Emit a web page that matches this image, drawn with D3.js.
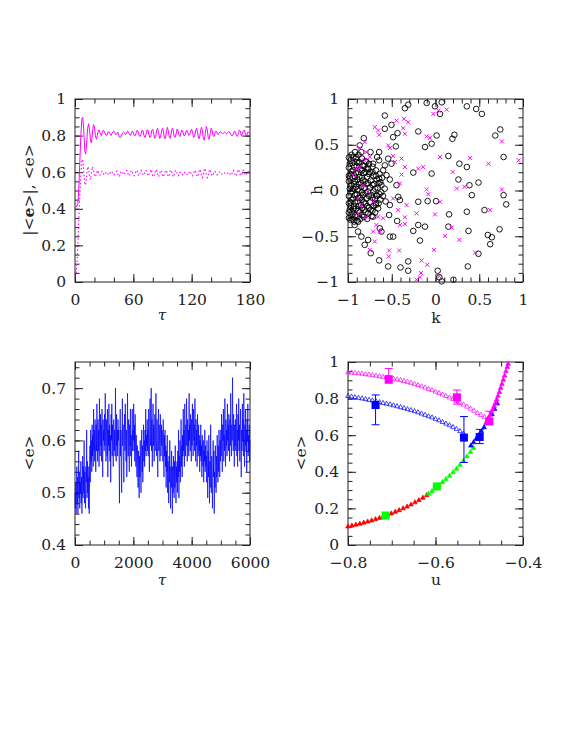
<!DOCTYPE html>
<html>
<head>
<meta charset="utf-8">
<script src="https://cdnjs.cloudflare.com/ajax/libs/d3/7.8.5/d3.min.js"></script>
<style>
  body { margin: 0; background: #fff; }
  svg { display: block; }
</style>
</head>
<body>
<div id="chart"></div>
<script>
// ---- panel 1: |<e>| (solid) and <e> (dotted) vs tau, tau = 0..180 step 1
var absE = [
  0.41, 0.41, 0.415, 0.43, 0.52, 0.66, 0.80, 0.89, 0.90, 0.83,
  0.72, 0.70, 0.76, 0.84, 0.865, 0.83, 0.77, 0.76, 0.82, 0.86,
  0.85, 0.80, 0.78, 0.80, 0.83, 0.83, 0.81, 0.80, 0.815, 0.83,
  0.825, 0.81, 0.80, 0.805, 0.82, 0.82, 0.81, 0.80, 0.81, 0.82,
  0.825, 0.815, 0.805, 0.81, 0.82, 0.80, 0.79, 0.79, 0.80, 0.815,
  0.82, 0.815, 0.805, 0.81, 0.825, 0.82, 0.805, 0.80, 0.815, 0.825,
  0.815, 0.80, 0.80, 0.815, 0.83, 0.82, 0.80, 0.795, 0.81, 0.83,
  0.825, 0.80, 0.79, 0.805, 0.83, 0.83, 0.805, 0.79, 0.80, 0.83,
  0.835, 0.81, 0.785, 0.795, 0.83, 0.84, 0.815, 0.785, 0.79, 0.825,
  0.84, 0.82, 0.785, 0.785, 0.82, 0.845, 0.825, 0.79, 0.785, 0.815,
  0.84, 0.83, 0.795, 0.79, 0.81, 0.835, 0.825, 0.80, 0.795, 0.815,
  0.83, 0.82, 0.80, 0.80, 0.82, 0.83, 0.815, 0.80, 0.805, 0.825,
  0.835, 0.815, 0.79, 0.795, 0.825, 0.84, 0.82, 0.785, 0.785, 0.82,
  0.845, 0.83, 0.785, 0.775, 0.81, 0.85, 0.835, 0.79, 0.78, 0.81,
  0.84, 0.83, 0.80, 0.795, 0.815, 0.825, 0.815, 0.805, 0.81, 0.82,
  0.82, 0.815, 0.81, 0.815, 0.82, 0.815, 0.81, 0.815, 0.82, 0.82,
  0.81, 0.80, 0.80, 0.81, 0.825, 0.82, 0.80, 0.795, 0.81, 0.83,
  0.825, 0.80, 0.805, 0.825, 0.83, 0.815, 0.80, 0.805, 0.82, 0.815,
  0.81
]
var meanE = [
  0.03, 0.04, 0.10, 0.22, 0.36, 0.48, 0.58, 0.66, 0.67, 0.60,
  0.54, 0.53, 0.58, 0.63, 0.62, 0.57, 0.56, 0.60, 0.63, 0.61,
  0.58, 0.575, 0.59, 0.61, 0.60, 0.585, 0.585, 0.60, 0.605, 0.595,
  0.585, 0.59, 0.60, 0.60, 0.59, 0.585, 0.595, 0.605, 0.60, 0.59,
  0.585, 0.59, 0.60, 0.605, 0.59, 0.575, 0.58, 0.60, 0.605, 0.595,
  0.585, 0.59, 0.60, 0.61, 0.60, 0.585, 0.58, 0.595, 0.61, 0.60,
  0.585, 0.58, 0.595, 0.61, 0.605, 0.585, 0.58, 0.595, 0.61, 0.60,
  0.585, 0.585, 0.60, 0.61, 0.60, 0.58, 0.585, 0.60, 0.615, 0.60,
  0.58, 0.575, 0.595, 0.615, 0.61, 0.585, 0.575, 0.59, 0.61, 0.605,
  0.585, 0.575, 0.59, 0.61, 0.61, 0.59, 0.575, 0.585, 0.61, 0.61,
  0.59, 0.575, 0.585, 0.605, 0.61, 0.595, 0.58, 0.585, 0.60, 0.60,
  0.59, 0.585, 0.59, 0.60, 0.60, 0.59, 0.585, 0.595, 0.605, 0.60,
  0.585, 0.58, 0.595, 0.61, 0.605, 0.585, 0.575, 0.59, 0.615, 0.61,
  0.585, 0.57, 0.585, 0.615, 0.62, 0.59, 0.57, 0.58, 0.61, 0.615,
  0.595, 0.58, 0.585, 0.60, 0.605, 0.595, 0.585, 0.59, 0.60, 0.60,
  0.59, 0.59, 0.595, 0.60, 0.595, 0.59, 0.59, 0.595, 0.60, 0.595,
  0.585, 0.585, 0.60, 0.61, 0.60, 0.58, 0.58, 0.60, 0.615, 0.605,
  0.585, 0.58, 0.595, 0.61, 0.60, 0.585, 0.585, 0.60, 0.605, 0.595,
  0.59
]

// ---- panel 2: (k, h) scatter, black circles and magenta crosses
var circlesKH = [
  [-0.101,0.957],[0.071,0.964],[-0.006,0.92],[0.052,0.837],[0.358,0.92],[0.465,0.891],[0.53,0.837],
  [-0.312,0.938],[-0.35,0.899],[-0.579,0.819],[-0.503,0.717],[-0.579,0.674],[-0.434,0.627],[-0.484,0.583],
  [-0.453,0.482],[-0.197,0.645],[-0.12,0.475],[-0.044,0.511],[0.013,0.601],[0.193,0.565],[0.216,0.609],
  [0.147,0.377],[0.273,0.293],[0.358,0.257],[0.262,0.12],[0.388,0.058],[0.491,0.087],[0.683,0.601],
  [0.74,0.667],[0.778,0.366],[0.778,-0.051],[0.808,-0.152],[0.415,-0.051],[0.56,-0.214],[0.358,-0.232],
  [0.155,-0.261],[0.147,-0.395],[0.377,-0.442],[0.598,-0.486],[0.644,-0.511],[0.625,-0.587],[0.732,-0.424],
  [0.491,-0.692],[0.369,-0.83],[0.025,-0.877],[0.044,-0.949],[0.071,-0.993],[0.205,-0.975],[-0.044,0.185],
  [0.006,-0.116],[-0.09,-0.116],[-0.197,-0.123],[-0.12,-0.395],[-0.197,-0.377],[-0.254,-0.442],[-0.178,-0.547],
  [-0.254,0.196],[-0.312,-0.775],[-0.312,-0.877],[-0.4,-0.841],[-0.541,-0.83],[-0.644,-0.764],[-0.74,-0.685],
  [-0.522,-0.504],[-0.484,-0.504],[-0.53,-0.268],[-0.438,-0.333],[-0.522,-0.159],[-0.618,-0.449],[-0.446,0.058],
  [-0.426,-0.069],[-0.407,-0.105],[-0.522,0.12],[-0.56,0.167],[-0.503,0.293],[-0.541,0.348],[-0.579,0.275],
  [-0.644,0.42],[-0.743,0.42],[-0.667,0.366],[-0.644,0.33],[-0.598,0.221],[-0.644,0.13],[-0.618,0.058],
  [-0.675,-0.051],[-0.683,-0.159],[-0.656,-0.196],[-0.713,-0.286],[-0.637,-0.413],[-0.77,-0.54],[-0.809,-0.594],
  [-0.847,-0.504],[-0.885,-0.449],[-0.924,-0.377],[-0.885,-0.341],[-0.82,0.572],[-0.866,0.493],[-0.847,0.42],
  [-0.904,0.366],[-0.79,0.312],[-0.713,0.293],
  [-0.99,0.25],[-0.97,0.18],[-0.99,0.10],[-0.98,0.02],[-0.99,-0.06],[-0.97,-0.13],[-0.98,-0.21],[-0.96,-0.27],
  [-0.95,0.30],[-0.94,0.22],[-0.95,0.14],[-0.93,0.07],[-0.95,-0.01],[-0.94,-0.09],[-0.93,-0.17],[-0.95,-0.24],
  [-0.91,0.35],[-0.90,0.27],[-0.91,0.19],[-0.89,0.12],[-0.91,0.04],[-0.90,-0.04],[-0.89,-0.12],[-0.91,-0.20],
  [-0.89,-0.28],[-0.87,0.31],[-0.86,0.23],[-0.87,0.15],[-0.85,0.08],[-0.87,0.00],[-0.86,-0.08],[-0.85,-0.16],
  [-0.87,-0.24],[-0.86,-0.31],[-0.83,0.27],[-0.82,0.19],[-0.83,0.11],[-0.81,0.03],[-0.83,-0.05],[-0.82,-0.13],
  [-0.81,-0.21],[-0.79,0.24],[-0.78,0.15],[-0.79,0.07],[-0.77,-0.01],[-0.79,-0.09],[-0.78,-0.17],[-0.77,-0.25],
  [-0.75,0.20],[-0.74,0.11],[-0.75,0.03],[-0.73,-0.05],[-0.75,-0.13],[-0.74,-0.21],[-0.71,0.16],[-0.70,0.07],
  [-0.71,-0.01],[-0.69,-0.09],[-0.71,-0.17],[-0.67,0.12],[-0.66,0.03],[-0.67,-0.06],[-0.65,-0.14],[-0.63,0.09],
  [-0.62,-0.02],[-0.63,-0.10],[-0.96,0.39],[-0.92,0.42],[-0.88,0.39],[-0.84,0.35],[-0.80,0.32],[-0.76,0.29],
  [-0.72,0.26],[-0.68,0.22],[-0.64,0.18],[-0.97,-0.32],[-0.93,-0.34],[-0.82,-0.29],[-0.78,-0.31],[-0.73,-0.28],
  [-0.69,-0.24],[-0.58,0.02],[-0.60,-0.06],[-0.57,-0.12],[-0.61,0.14],
  [-0.98,0.29],[-0.96,0.21],[-0.98,0.14],[-0.96,0.06],[-0.97,-0.02],[-0.96,-0.10],[-0.97,-0.17],[-0.99,-0.24],
  [-0.93,0.26],[-0.92,0.15],[-0.92,0.10],[-0.94,0.02],[-0.92,-0.05],[-0.92,-0.13],[-0.94,-0.20],[-0.92,-0.27],
  [-0.88,0.30],[-0.88,0.20],[-0.88,0.07],[-0.89,0.01],[-0.88,-0.08],[-0.88,-0.17],[-0.88,-0.22],
  [-0.84,0.22],[-0.84,0.14],[-0.85,0.04],[-0.84,-0.02],[-0.84,-0.10],[-0.84,-0.19],[-0.84,-0.27],
  [-0.80,0.20],[-0.81,0.10],[-0.80,-0.03],[-0.80,-0.14],[-0.80,-0.24],[-0.81,0.27],
  [-0.76,0.18],[-0.77,0.08],[-0.76,-0.06],[-0.76,-0.19],[-0.77,0.24],
  [-0.72,0.20],[-0.72,0.06],[-0.72,-0.08],[-0.72,-0.22],
  [-0.68,0.16],[-0.69,0.02],[-0.68,-0.14],[-0.65,0.08],[-0.64,-0.04],
  [-0.97,0.33],[-0.99,0.36],[-0.94,0.36],[-0.90,0.31],[-0.99,-0.30],[-0.95,-0.31],[-0.90,-0.33],
  [-0.97,0.05],[-0.99,0.16],[-0.99,-0.14]
]
var crossesKH = [
  [-0.025,0.837],[0.033,0.873],[0.128,0.884],[-0.446,0.764],[-0.361,0.783],[-0.312,0.746],[-0.694,0.692],
  [-0.656,0.656],[-0.644,0.609],[-0.369,0.681],[-0.35,0.62],[-0.541,0.493],[-0.522,0.464],[-0.101,0.591],
  [-0.063,0.576],[-0.14,0.257],[-0.197,0.239],[0.052,0.366],[0.396,0.355],[0.197,0.203],[0.606,0.293],
  [0.759,0.536],[0.95,0.33],[0.243,0.022],[0.331,0.04],[0.759,0.011],[0.625,-0.214],[-0.101,0.011],
  [-0.082,-0.04],[0.052,-0.123],[-0.006,-0.261],[-0.216,-0.25],[0.186,-0.406],[0.109,-0.496],[0.273,-0.54],
  [0.453,-0.678],[-0.017,-0.649],[-0.159,-0.764],[-0.094,-0.812],[-0.166,-0.902],[-0.178,-0.949],[-0.216,-0.975],
  [0.044,-0.938],[-0.415,-0.656],[-0.53,-0.656],[-0.534,-0.721],[-0.35,-0.366],[-0.35,-0.293],[-0.331,-0.159],
  [-0.426,-0.214],[-0.407,-0.377],[-0.484,-0.087],[-0.598,-0.304],[-0.637,-0.449],[-0.713,-0.449],[-0.694,-0.558],
  [-0.751,-0.649],[-0.656,-0.286],[-0.675,-0.377],[-0.484,0.377],[-0.465,0.312],[-0.388,0.348],[-0.35,0.257],
  [-0.407,0.076],[-0.388,0.174],[-0.79,0.42],[-0.751,0.366],[-0.809,0.33],[-0.866,0.257],[-0.904,0.239],
  [-0.77,-0.014],[-0.885,-0.087],[-0.828,0.058],[-0.943,0.167],[-0.847,-0.159],[-0.713,-0.123],[-0.732,0.13],
  [-0.885,-0.25],[-0.79,-0.286],[-0.809,0.529],[-0.866,0.464]
]

// ---- panel 3: <e> vs tau, tau = 0..6000 step 12.5
var longE = [
  0.50,0.47,0.52,0.46,0.49,0.55,0.48,0.53,0.46,0.51, 0.58,0.49,0.54,0.47,0.52,0.50,0.56,0.48,0.53,0.46,
  0.51,0.57,0.49,0.55,0.50,0.60,0.48,0.54,0.51,0.47, 0.55,0.52,0.62,0.49,0.56,0.50,0.53,0.47,0.55,0.46,
  0.54,0.59,0.52,0.62,0.56,0.60,0.54,0.63,0.57,0.61, 0.55,0.66,0.58,0.62,0.56,0.64,0.59,0.54,0.63,0.58,
  0.67,0.60,0.56,0.64,0.58,0.62,0.55,0.68,0.60,0.57, 0.65,0.59,0.63,0.56,0.66,0.58,0.53,0.64,0.60,0.62,
  0.58,0.65,0.59,0.69,0.60,0.56,0.64,0.61,0.57,0.66, 0.53,0.62,0.59,0.67,0.58,0.63,0.56,0.61,0.52,0.65,
  0.60,0.67,0.57,0.63,0.59,0.55,0.64,0.61,0.58,0.62, 0.57,0.70,0.60,0.56,0.65,0.59,0.62,0.57,0.64,0.60,
  0.62,0.56,0.48,0.60,0.66,0.57,0.62,0.55,0.50,0.61, 0.68,0.59,0.63,0.56,0.52,0.60,0.65,0.58,0.67,0.60,
  0.56,0.62,0.53,0.59,0.69,0.61,0.57,0.64,0.58,0.54, 0.63,0.59,0.66,0.57,0.61,0.55,0.60,0.66,0.58,0.62,
  0.60,0.67,0.58,0.63,0.56,0.65,0.60,0.55,0.61,0.57, 0.53,0.59,0.56,0.51,0.58,0.54,0.49,0.57,0.53,0.60,
  0.55,0.50,0.58,0.62,0.54,0.59,0.52,0.57,0.63,0.56, 0.60,0.55,0.62,0.58,0.66,0.57,0.61,0.59,0.64,0.58,
  0.62,0.57,0.66,0.60,0.54,0.63,0.68,0.59,0.62,0.70, 0.58,0.64,0.55,0.61,0.67,0.59,0.63,0.56,0.60,0.65,
  0.58,0.62,0.69,0.60,0.57,0.64,0.59,0.53,0.62,0.66, 0.58,0.63,0.60,0.56,0.65,0.61,0.57,0.63,0.59,0.62,
  0.60,0.56,0.64,0.58,0.53,0.61,0.57,0.62,0.55,0.59, 0.51,0.58,0.54,0.61,0.50,0.56,0.53,0.48,0.57,0.52,
  0.60,0.54,0.47,0.55,0.51,0.58,0.53,0.46,0.55,0.50, 0.57,0.52,0.49,0.56,0.51,0.59,0.53,0.48,0.55,0.52,
  0.56,0.50,0.58,0.53,0.62,0.49,0.57,0.54,0.60,0.52, 0.58,0.64,0.55,0.59,0.53,0.61,0.57,0.66,0.58,0.62,
  0.55,0.67,0.60,0.57,0.63,0.59,0.68,0.61,0.56,0.64, 0.59,0.62,0.57,0.69,0.60,0.63,0.58,0.65,0.61,0.56,
  0.64,0.59,0.67,0.61,0.57,0.66,0.60,0.63,0.58,0.68, 0.61,0.56,0.64,0.59,0.62,0.55,0.65,0.60,0.57,0.63,
  0.58,0.61,0.54,0.60,0.57,0.63,0.56,0.59,0.53,0.61, 0.57,0.55,0.60,0.52,0.58,0.56,0.62,0.54,0.59,0.55,
  0.57,0.52,0.60,0.54,0.49,0.58,0.53,0.61,0.55,0.48, 0.56,0.51,0.63,0.54,0.50,0.57,0.52,0.47,0.55,0.60,
  0.53,0.58,0.46,0.54,0.51,0.59,0.55,0.50,0.57,0.53, 0.61,0.56,0.52,0.59,0.54,0.62,0.57,0.53,0.60,0.56,
  0.62,0.57,0.65,0.59,0.54,0.63,0.60,0.66,0.56,0.61, 0.58,0.68,0.60,0.55,0.64,0.59,0.62,0.57,0.67,0.60,
  0.63,0.58,0.65,0.61,0.56,0.64,0.59,0.69,0.61,0.57, 0.63,0.60,0.72,0.62,0.58,0.65,0.60,0.55,0.63,0.59,
  0.64,0.58,0.61,0.67,0.57,0.62,0.55,0.65,0.60,0.68, 0.58,0.63,0.56,0.61,0.66,0.59,0.53,0.62,0.58,0.67,
  0.60,0.64,0.57,0.69,0.61,0.55,0.63,0.59,0.66,0.58, 0.62,0.54,0.64,0.60,0.67,0.57,0.61,0.58,0.63,0.56,
  0.60
]

// ---- panel 4: <e> vs u
var openMagU = [-0.800,-0.792,-0.784,-0.776,-0.768,-0.760,-0.752,-0.744,-0.736,-0.728,-0.720,-0.712,-0.704,-0.696,
  -0.688,-0.680,-0.672,-0.664,-0.656,-0.648,-0.640,-0.632,-0.624,-0.616,-0.608,-0.600,-0.592,-0.584,-0.576,-0.568,
  -0.560,-0.552,-0.544,-0.536,-0.528,-0.520,-0.512,-0.504,-0.496,-0.488,-0.480]
var openMagE = [0.946,0.944,0.942,0.940,0.938,0.935,0.933,0.930,0.927,0.924,0.921,0.918,0.915,0.911,
  0.907,0.903,0.898,0.893,0.888,0.882,0.876,0.869,0.862,0.855,0.848,0.840,0.832,0.824,0.816,0.808,
  0.799,0.789,0.779,0.769,0.758,0.747,0.735,0.723,0.712,0.702,0.694]
var openBlueU = [-0.800,-0.792,-0.784,-0.776,-0.768,-0.760,-0.752,-0.744,-0.736,-0.728,-0.720,-0.712,-0.704,-0.696,
  -0.688,-0.680,-0.672,-0.664,-0.656,-0.648,-0.640,-0.632,-0.624,-0.616,-0.608,-0.600,-0.592,-0.584,-0.576,-0.568,
  -0.560,-0.552,-0.544,-0.536]
var openBlueE = [0.816,0.813,0.810,0.806,0.803,0.799,0.795,0.791,0.787,0.782,0.778,0.774,0.770,0.765,
  0.760,0.755,0.750,0.744,0.739,0.733,0.727,0.720,0.713,0.706,0.699,0.691,0.683,0.674,0.665,0.656,
  0.646,0.636,0.624,0.611]
var redU = [-0.800,-0.791,-0.782,-0.773,-0.764,-0.755,-0.746,-0.737,-0.728,-0.719,-0.710,-0.701,-0.692,-0.683,
  -0.674,-0.665,-0.656,-0.647,-0.638,-0.629,-0.620]
var redE = [0.103,0.108,0.113,0.118,0.124,0.130,0.136,0.143,0.150,0.158,0.166,0.174,0.183,0.192,
  0.202,0.212,0.223,0.235,0.247,0.260,0.274]
var greenU = [-0.616,-0.608,-0.600,-0.592,-0.584,-0.576,-0.568,-0.560,-0.552,-0.544,-0.536,-0.528,-0.520,-0.513]
var greenE = [0.282,0.296,0.312,0.328,0.345,0.362,0.380,0.399,0.419,0.440,0.462,0.486,0.510,0.532]
var blueU = [-0.519,-0.513,-0.507,-0.501,-0.495,-0.489,-0.483,-0.477,-0.471,-0.465,-0.459]
var blueE = [0.545,0.563,0.582,0.602,0.623,0.645,0.668,0.692,0.717,0.745,0.775]
var magU = [-0.484,-0.481,-0.478,-0.475,-0.472,-0.469,-0.466,-0.463,-0.460,-0.457,-0.454,-0.451,-0.448,
  -0.445,-0.442,-0.439,-0.436,-0.434]
var magE = [0.672,0.685,0.697,0.712,0.727,0.743,0.760,0.778,0.797,0.817,0.838,0.860,0.882,0.905,0.928,
  0.951,0.975,0.992]
// squares: [u, e, low, high]
var magSquares = [[-0.707,0.906,0.884,0.964],[-0.551,0.807,0.770,0.847],[-0.477,0.675,0.659,0.731]]
var blueSquares = [[-0.737,0.765,0.657,0.820],[-0.535,0.587,0.451,0.702],[-0.499,0.590,0.554,0.632]]
var greenSquares = [[-0.714,0.161],[-0.597,0.320]]

// tick labels
var p1XTicks = [0, 60, 120, 180], p1YTicks = [0, 0.2, 0.4, 0.6, 0.8, 1]
var p2Ticks = [-1, -0.5, 0, 0.5, 1]
var p3XTicks = [0, 2000, 4000, 6000], p3YTicks = [0.4, 0.5, 0.6, 0.7]
var p4XTicks = [-0.8, -0.6, -0.4], p4YTicks = [0, 0.2, 0.4, 0.6, 0.8, 1]

var MAG = "#ff00ff", BLUE = "#0000ff", RED = "#ff0000", GREEN = "#00ff00"
var FONT = "DejaVu Serif"

var svg = d3.select("#chart").append("svg")
    .attr("width", 570)
    .attr("height", 737)

var fmt = d3.format("~g")

function makePanel(o) {
    var g = svg.append("g").attr("transform", "translate(" + o.left + "," + o.top + ")")
    var x = d3.scaleLinear().domain(o.xDomain).range([0, o.w])
    var y = d3.scaleLinear().domain(o.yDomain).range([o.h, 0])

    function ticks(axis, tr, vals, size, labels, pad) {
        var a = g.append("g").attr("transform", tr)
            .call(axis.tickValues(vals).tickSize(size).tickSizeOuter(0).tickPadding(pad || 3)
                .tickFormat(labels ? fmt : ""))
        a.select(".domain").remove()
        a.attr("font-family", FONT).attr("font-size", 15.5).attr("color", "#222")
        a.selectAll("line").attr("stroke-width", 1)
        return a
    }
    // minor ticks on all sides
    ticks(d3.axisBottom(x), "translate(0," + o.h + ")", o.xMinor, -4.5, false)
    ticks(d3.axisTop(x), "translate(0,0)", o.xMinor, -4.5, false)
    ticks(d3.axisLeft(y), "translate(0,0)", o.yMinor, -4.5, false)
    ticks(d3.axisRight(y), "translate(" + o.w + ",0)", o.yMinor, -4.5, false)
    // major ticks, labelled on bottom and left
    ticks(d3.axisBottom(x), "translate(0," + o.h + ")", o.xMajor, -8, true, 12)
    ticks(d3.axisTop(x), "translate(0,0)", o.xMajor, -8, false)
    ticks(d3.axisLeft(y), "translate(0,0)", o.yMajor, -8, true, 9)
    ticks(d3.axisRight(y), "translate(" + o.w + ",0)", o.yMajor, -8, false)

    g.append("rect")
        .attr("width", o.w).attr("height", o.h)
        .attr("fill", "none").attr("stroke", "#222").attr("stroke-width", 1)

    var plot = g.append("g")
    return { g: g, plot: plot, x: x, y: y }
}

function step(a, b, s) { var r = []; for (var v = a; v <= b + 1e-9; v += s) r.push(+v.toFixed(4)); return r }

// ---------- Panel 1
var p1 = makePanel({ left: 75, top: 99, w: 175, h: 183,
    xDomain: [0, 180], yDomain: [0, 1],
    xMajor: p1XTicks, xMinor: step(0, 180, 20), yMajor: p1YTicks, yMinor: step(0, 1, 0.05) })
var line1 = d3.line().x(function (d, i) { return p1.x(i) }).y(function (d) { return p1.y(d) })
p1.plot.append("path").datum(absE).attr("d", line1)
    .attr("fill", "none").attr("stroke", MAG).attr("stroke-width", 1)
p1.plot.append("path").datum(meanE).attr("d", line1)
    .attr("fill", "none").attr("stroke", MAG).attr("stroke-width", 1.1).attr("stroke-dasharray", "1.5,2.2")

// ---------- Panel 2
var p2 = makePanel({ left: 348, top: 99, w: 175, h: 183,
    xDomain: [-1, 1], yDomain: [-1, 1],
    xMajor: p2Ticks, xMinor: step(-1, 1, 0.1), yMajor: p2Ticks, yMinor: step(-1, 1, 0.1) })
p2.plot.selectAll("circle").data(circlesKH).enter().append("circle")
    .attr("cx", function (d) { return p2.x(d[0]) })
    .attr("cy", function (d) { return p2.y(d[1]) })
    .attr("r", 2.8)
    .attr("fill", "none").attr("stroke", "#000").attr("stroke-width", 0.9)
p2.plot.selectAll("path.cross").data(crossesKH).enter().append("path")
    .attr("class", "cross")
    .attr("d", function (d) {
        var cx = p2.x(d[0]), cy = p2.y(d[1]), s = 2
        return "M" + (cx - s) + "," + (cy - s) + "L" + (cx + s) + "," + (cy + s) +
            "M" + (cx - s) + "," + (cy + s) + "L" + (cx + s) + "," + (cy - s)
    })
    .attr("stroke", MAG).attr("stroke-width", 1)

// ---------- Panel 3
var p3 = makePanel({ left: 75, top: 362, w: 175, h: 183,
    xDomain: [0, 6000], yDomain: [0.4, 0.75],
    xMajor: p3XTicks, xMinor: step(0, 6000, 500), yMajor: p3YTicks, yMinor: step(0.4, 0.74, 0.02) })
var line3 = d3.line().x(function (d, i) { return p3.x(i * 12.5) }).y(function (d) { return p3.y(d) })
p3.plot.append("path").datum(longE).attr("d", line3)
    .attr("fill", "none").attr("stroke", BLUE).attr("stroke-width", 0.7)

// ---------- Panel 4
var p4 = makePanel({ left: 348, top: 362, w: 175, h: 183,
    xDomain: [-0.8, -0.4], yDomain: [0, 1],
    xMajor: p4XTicks, xMinor: step(-0.8, -0.4, 0.05), yMajor: p4YTicks, yMinor: step(0, 1, 0.05) })

function tri(cx, cy, s) {
    return "M" + cx + "," + (cy - s) + "L" + (cx + s) + "," + (cy + s * 0.8) + "L" + (cx - s) + "," + (cy + s * 0.8) + "Z"
}
function triSeries(us, es, color, filled) {
    p4.plot.append("g").selectAll("path").data(us).enter().append("path")
        .attr("d", function (u, i) { return tri(p4.x(u), p4.y(es[i]), 2.3) })
        .attr("fill", filled ? color : "none")
        .attr("stroke", color).attr("stroke-width", 0.7)
}
triSeries(openMagU, openMagE, MAG, false)
triSeries(openBlueU, openBlueE, BLUE, false)
triSeries(redU, redE, RED, true)
triSeries(greenU, greenE, GREEN, true)
triSeries(blueU, blueE, BLUE, true)
triSeries(magU, magE, MAG, true)

function squares(data, color) {
    var gg = p4.plot.append("g")
    data.forEach(function (d) {
        var cx = p4.x(d[0])
        if (d.length > 2) {
            var y0 = p4.y(d[2]), y1 = p4.y(d[3])
            gg.append("path")
                .attr("d", "M" + cx + "," + y0 + "L" + cx + "," + y1 +
                    "M" + (cx - 4) + "," + y0 + "L" + (cx + 4) + "," + y0 +
                    "M" + (cx - 4) + "," + y1 + "L" + (cx + 4) + "," + y1)
                .attr("stroke", color).attr("stroke-width", 1).attr("fill", "none")
        }
        gg.append("rect")
            .attr("x", cx - 4).attr("y", p4.y(d[1]) - 4)
            .attr("width", 8).attr("height", 8)
            .attr("fill", color)
    })
}
squares(magSquares, MAG)
squares(blueSquares, BLUE)
squares(greenSquares, GREEN)

// ---------- axis titles
function title(x, y, rot) {
    return svg.append("text")
        .attr("transform", "translate(" + x + "," + y + ")" + (rot ? " rotate(-90)" : ""))
        .attr("text-anchor", "middle")
        .attr("font-family", FONT)
        .attr("font-size", 15.5)
        .attr("fill", "#222")
}
title(162, 320).attr("font-style", "italic").text("τ")
title(436, 323).text("k")
title(162, 585).attr("font-style", "italic").text("τ")
title(436, 585).text("u")

var yl1 = title(34, 190, true)
yl1.append("tspan").text("|<")
yl1.append("tspan").attr("font-weight", "bold").text("e")
yl1.append("tspan").text(">|, <e>")
title(322, 190, true).text("h")
title(34, 453, true).text("<e>")
title(306, 453, true).text("<e>")
</script>
</body>
</html>
